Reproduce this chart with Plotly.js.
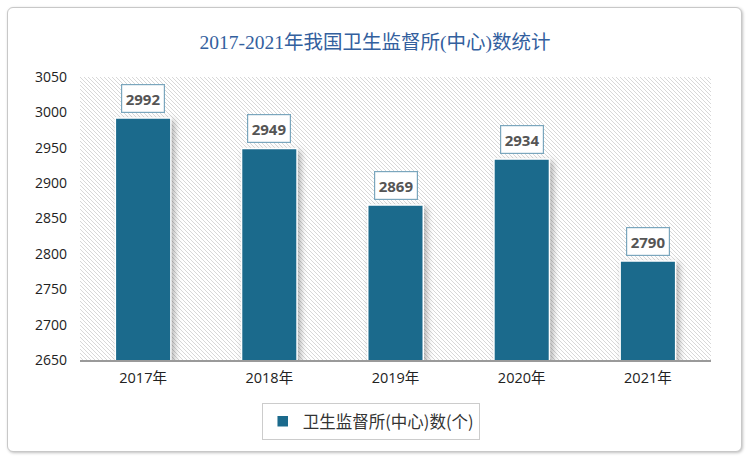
<!DOCTYPE html>
<html><head><meta charset="utf-8">
<script src="https://cdn.plot.ly/plotly-3.0.1.min.js"></script>
<style>
html,body{margin:0;padding:0;background:#fff;}
#wrap{position:relative;width:750px;height:461px;}
#frame{position:absolute;left:7px;top:7px;width:733px;height:443px;border:1px solid #c8c8c8;border-radius:6px;box-shadow:1px 1px 3px rgba(0,0,0,0.25);background:#fff;}
#hatch{position:absolute;left:80px;top:77px;width:631px;height:283px;
background-image:url("data:image/svg+xml;utf8,<svg xmlns='http://www.w3.org/2000/svg' width='4' height='4'><path d='M-1,3 l2,2 M0,0 l4,4 M3,-1 l2,2' stroke='%23d4d4d4' stroke-width='0.9'/></svg>");
background-size:4px 4px;}
#chart{position:absolute;left:0;top:0;width:750px;height:461px;}
.trace.bars path{filter:drop-shadow(3px 3px 3px rgba(0,0,0,0.3));}
</style></head>
<body>
<div id="wrap"><div id="frame"></div><div id="hatch"></div><div id="chart"></div></div>
<script>
const categories = ["2017年","2018年","2019年","2020年","2021年"];
const values = [2992, 2949, 2869, 2934, 2790];
const seriesName = "卫生监督所(中心)数(个)";
const yTicks = [2650,2700,2750,2800,2850,2900,2950,3000,3050];
const titleText = "2017-2021年我国卫生监督所(中心)数统计";

const trace = {
  type: 'bar', x: categories, y: values, name: seriesName,
  width: 0.44,
  marker: {color: '#1b6a8c', line: {color: '#ffffff', width: 1.5}},
  showlegend: true, hoverinfo: 'x+y'
};
const annotations = categories.map((c,i)=>({
  x: c, y: values[i], xref:'x', yref:'y', text: '<b>'+values[i]+'</b>',
  showarrow:false, yanchor:'bottom', yshift:5,
  font:{family:'Open Sans, Liberation Sans, sans-serif', size:15, color:'#555555'},
  bgcolor:'#ffffff', bordercolor:'#7aa6bd', borderwidth:1.2, borderpad:3.5
}));
const layout = {
  width:750, height:461,
  margin:{l:80, r:39, t:77, b:101},
  paper_bgcolor:'rgba(0,0,0,0)', plot_bgcolor:'rgba(0,0,0,0)',
  title:{text:titleText, x:0.5, xref:'container', y:0.909, yanchor:'middle',
    font:{family:'Liberation Serif, Noto Sans CJK SC, serif', size:19.5, color:'#33609e'}},
  xaxis:{type:'category', showgrid:false, zeroline:false, showline:true, linecolor:'#9a9a9a', linewidth:2,
    ticks:'', ticklabelstandoff:4,
    tickfont:{family:'Open Sans, Noto Sans CJK SC, sans-serif', size:14.5, color:'#222'}},
  yaxis:{range:[2650,3050], tickvals:yTicks, showgrid:false, zeroline:false, showline:false, ticks:'',
    ticklabelstandoff:12,
    tickfont:{family:'Open Sans, Liberation Sans, sans-serif', size:14, color:'#222'}},
  bargap:0.56,
  legend:{orientation:'h', x:0.288, xanchor:'left', y:-0.152, yanchor:'top',
    bgcolor:'#ffffff', bordercolor:'#cccccc', borderwidth:1,
    font:{family:'Noto Sans CJK SC, sans-serif', size:16.5, color:'#333'}},
  annotations: annotations
};
Plotly.newPlot('chart',[trace],layout,{displayModeBar:false, staticPlot:true});
</script>
</body></html>
